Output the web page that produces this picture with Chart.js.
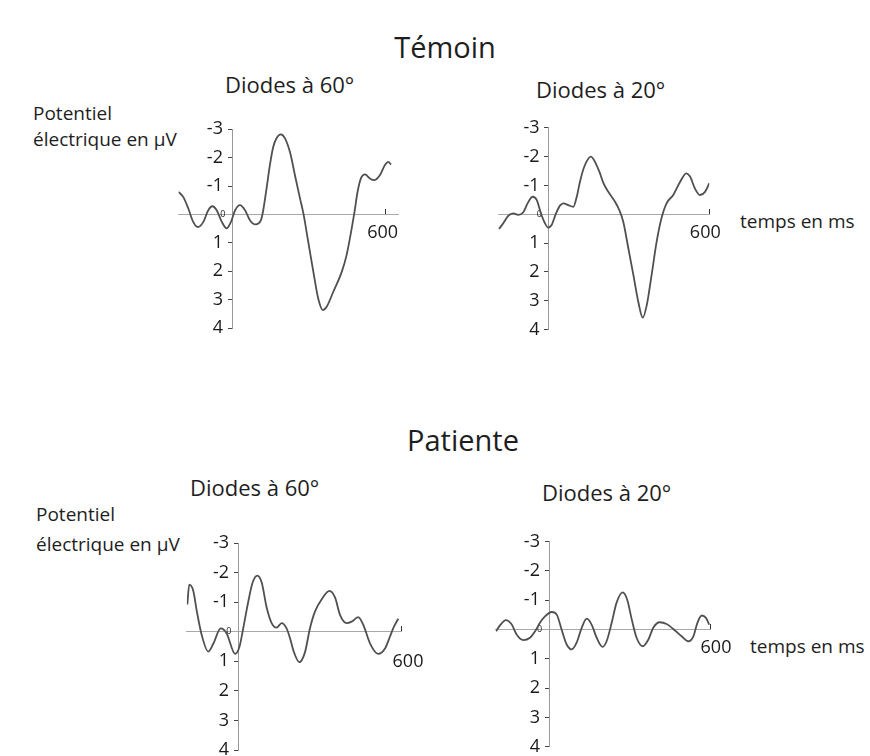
<!DOCTYPE html>
<html lang="fr">
<head>
<meta charset="utf-8">
<title>Potentiels évoqués – Témoin / Patiente</title>
<script src="https://cdn.jsdelivr.net/npm/chart.js@4.4.1/dist/chart.umd.min.js"></script>
<style>
  html, body { margin: 0; padding: 0; background: #fff; }
  #page { position: relative; width: 870px; height: 756px; overflow: hidden;
          font-family: "Open Sans", sans-serif; color: #1e1e1e; }
  #page canvas { position: absolute; }
  .txt { position: absolute; white-space: nowrap; line-height: 1; }
</style>
</head>
<body>
<div id="page">
  <div class="txt" data-x="445" data-base="58" data-size="29" data-center="1">Témoin</div>
  <div class="txt" data-x="225" data-base="93" data-size="22">Diodes à 60°</div>
  <div class="txt" data-x="536" data-base="98" data-size="22">Diodes à 20°</div>
  <div class="txt" data-x="33" data-base="121" data-size="19">Potentiel</div>
  <div class="txt" data-x="33" data-base="147" data-size="19">électrique en μV</div>
  <div class="txt" data-x="740" data-base="229" data-size="19">temps en ms</div>

  <div class="txt" data-x="463" data-base="451" data-size="29" data-center="1">Patiente</div>
  <div class="txt" data-x="190" data-base="496" data-size="22">Diodes à 60°</div>
  <div class="txt" data-x="542" data-base="501" data-size="22">Diodes à 20°</div>
  <div class="txt" data-x="36" data-base="522" data-size="19">Potentiel</div>
  <div class="txt" data-x="36" data-base="552" data-size="19">électrique en μV</div>
  <div class="txt" data-x="750" data-base="654" data-size="19">temps en ms</div>

  <canvas id="temoin60"></canvas>
  <canvas id="temoin20"></canvas>
  <canvas id="patiente60"></canvas>
  <canvas id="patiente20"></canvas>
</div>
<script>
// ticks
const yTickValues = [-3, -2, -1, 0, 1, 2, 3, 4];
const xTickValues = [600];

// Témoin, diodes à 60° (temps en ms, potentiel en µV, négatif vers le haut)
const temoin60Time = [-211, -192, -172, -153, -135, -113, -94, -78, -61, -41,
  -22, -5, 11, 30, 50, 69, 91, 112, 121, 134,
  147, 160, 174, 190, 206, 227, 245, 265, 278, 297,
  317, 336, 354, 369, 395, 428, 447, 467, 477, 490,
  503, 519, 538, 555, 577, 597, 610, 621];
const temoin60Values = [-0.80, -0.62, -0.21, 0.26, 0.44, 0.26, -0.15, -0.29, -0.15, 0.26,
  0.49, 0.26, -0.15, -0.33, -0.15, 0.20, 0.35, 0.20, -0.15, -0.92,
  -1.74, -2.38, -2.70, -2.82, -2.68, -2.15, -1.38, -0.56, -0.04, 0.96,
  2.02, 2.96, 3.37, 3.25, 2.72, 2.02, 1.43, 0.49, -0.04, -0.80,
  -1.27, -1.41, -1.27, -1.21, -1.38, -1.74, -1.85, -1.76];

// Témoin, diodes à 20°
const temoin20Time = [-187, -171, -152, -134, -115, -96, -80, -61, -46, -30,
  -15, -3, 10, 25, 41, 54, 72, 91, 104, 116,
  132, 157, 178, 191, 203, 222, 247, 263, 278, 297,
  316, 334, 351, 366, 384, 403, 421, 440, 465, 491,
  514, 528, 546, 565, 584, 600];
const temoin20Values = [0.51, 0.31, 0.05, -0.03, 0.02, -0.07, -0.38, -0.61, -0.50, -0.03,
  0.31, 0.46, 0.37, 0.00, -0.30, -0.38, -0.32, -0.26, -0.61, -1.13,
  -1.65, -2.00, -1.71, -1.42, -1.10, -0.78, -0.44, -0.15, 0.26, 1.18,
  2.11, 3.03, 3.59, 3.15, 2.11, 0.95, 0.14, -0.38, -0.67, -1.13,
  -1.42, -1.31, -0.90, -0.67, -0.78, -1.08];

// Patiente, diodes à 60°
const patiente60Time = [-188, -181, -166, -153, -135, -111, -92, -65, -43, -12,
  4, 18, 37, 53, 70, 86, 105, 123, 141, 160,
  178, 191, 203, 225, 246, 264, 283, 307, 336, 357,
  375, 400, 418, 442, 461, 486, 516, 541, 559, 574, 590];
const patiente60Values = [-0.92, -1.59, -1.38, -0.69, 0.11, 0.67, 0.40, -0.11, 0.06, 0.75,
  0.52, -0.11, -1.03, -1.67, -1.90, -1.67, -0.80, -0.29, -0.14, -0.29,
  -0.11, 0.23, 0.63, 1.03, 0.69, -0.11, -0.69, -1.09, -1.38, -1.15,
  -0.57, -0.29, -0.34, -0.49, -0.23, 0.40, 0.75, 0.57, 0.17, -0.17, -0.44];

// Patiente, diodes à 20°
const patiente20Time = [-199, -184, -162, -140, -122, -97, -72, -53, -35, -16,
  9, 28, 46, 65, 84, 102, 121, 140, 158, 177,
  199, 214, 233, 251, 274, 291, 308, 326, 349, 370,
  388, 413, 438, 463, 494, 519, 538, 553, 569, 585, 597];
const patiente20Values = [0.06, -0.14, -0.32, -0.17, 0.17, 0.36, 0.28, 0.06, -0.23, -0.45,
  -0.60, -0.51, 0.00, 0.51, 0.68, 0.45, -0.06, -0.37, -0.17, 0.28,
  0.59, 0.40, -0.23, -0.91, -1.27, -1.02, -0.34, 0.28, 0.57, 0.34,
  -0.06, -0.25, -0.19, -0.02, 0.23, 0.40, 0.23, -0.23, -0.48, -0.40, -0.17];

// text placement (baseline -> top for line-height 1 in Open Sans)
document.querySelectorAll('.txt').forEach(el => {
  const size = +el.dataset.size;
  el.style.fontSize = size + 'px';
  el.style.top = (+el.dataset.base - 0.888 * size) + 'px';
  el.style.left = el.dataset.x + 'px';
  if (el.dataset.center) el.style.transform = 'translateX(-50%)';
});

// axes sit inside the plot, so they take no room in the layout
function noRoom(s) {
  if (s.isHorizontal()) s.height = 0; else s.width = 0;
  s.paddingLeft = 0;
  s.paddingRight = 0;
  s.paddingTop = 0;
  s.paddingBottom = 0;
}

function drawPanel(id, area, times, values, xMin, xMax, labelShift, labelPad) {
  const pad = 34;
  const cv = document.getElementById(id);
  const L = Math.floor(area.left) - pad;
  const T = Math.floor(area.top) - pad;
  const W = Math.ceil(area.right) + pad - L;
  const H = Math.ceil(area.bottom) + pad - T;
  cv.style.left = L + 'px';
  cv.style.top = T + 'px';
  cv.width = W;
  cv.height = H;

  const points = times.map((t, i) => ({x: t, y: values[i]}));

  return new Chart(cv, {
    type: 'line',
    data: {
      datasets: [{
        data: points,
        borderColor: '#505050',
        borderWidth: 1.8,
        pointRadius: 0,
        cubicInterpolationMode: 'monotone',
        fill: false
      }]
    },
    options: {
      responsive: false,
      animation: false,
      devicePixelRatio: 1,
      layout: {
        padding: {
          left: area.left - L,
          top: area.top - T,
          right: L + W - area.right,
          bottom: T + H - area.bottom
        }
      },
      plugins: {legend: {display: false}, tooltip: {enabled: false}},
      scales: {
        x: {
          type: 'linear',
          min: xMin,
          max: xMax,
          position: {y: 0},
          afterFit: noRoom,
          afterBuildTicks: s => { s.ticks = xTickValues.map(v => ({value: v})); },
          border: {display: true, color: '#a9a9a9', width: 1},
          grid: {drawOnChartArea: false, drawTicks: true, tickLength: -6, color: '#333'},
          ticks: {
            padding: labelPad,
            labelOffset: labelShift,
            maxRotation: 0,
            color: '#1a1a1a',
            font: {family: 'Open Sans', size: 18}
          }
        },
        y: {
          type: 'linear',
          min: -3,
          max: 4,
          reverse: true,
          position: {x: 0},
          afterFit: noRoom,
          afterBuildTicks: s => { s.ticks = yTickValues.map(v => ({value: v})); },
          border: {display: true, color: '#999', width: 1},
          grid: {drawOnChartArea: false, drawTicks: true, tickLength: 4, color: '#444'},
          ticks: {
            color: '#1a1a1a',
            // labels are right-aligned on the axis line: trailing spaces keep them clear of it
            callback: v => v === 0 ? '0   ' : v + '  ',
            font: c => ({family: 'Open Sans', size: (c.tick && c.tick.value === 0) ? 9 : 18})
          }
        }
      }
    }
  });
}

drawPanel('temoin60', {left: 178.6, right: 398.5, top: 129.3, bottom: 328.1},
  temoin60Time, temoin60Values, -210, 650, -3, 14);
drawPanel('temoin20', {left: 498.2, right: 709.3, top: 127.9, bottom: 329.5},
  temoin20Time, temoin20Values, -190, 600, -4, 14);
drawPanel('patiente60', {left: 186.8, right: 401, top: 543, bottom: 750},
  patiente60Time, patiente60Values, -190, 600, 7, 25);
drawPanel('patiente20', {left: 495.7, right: 710, top: 541.7, bottom: 746.7},
  patiente20Time, patiente20Values, -200, 600, 6, 14);
</script>
</body>
</html>
